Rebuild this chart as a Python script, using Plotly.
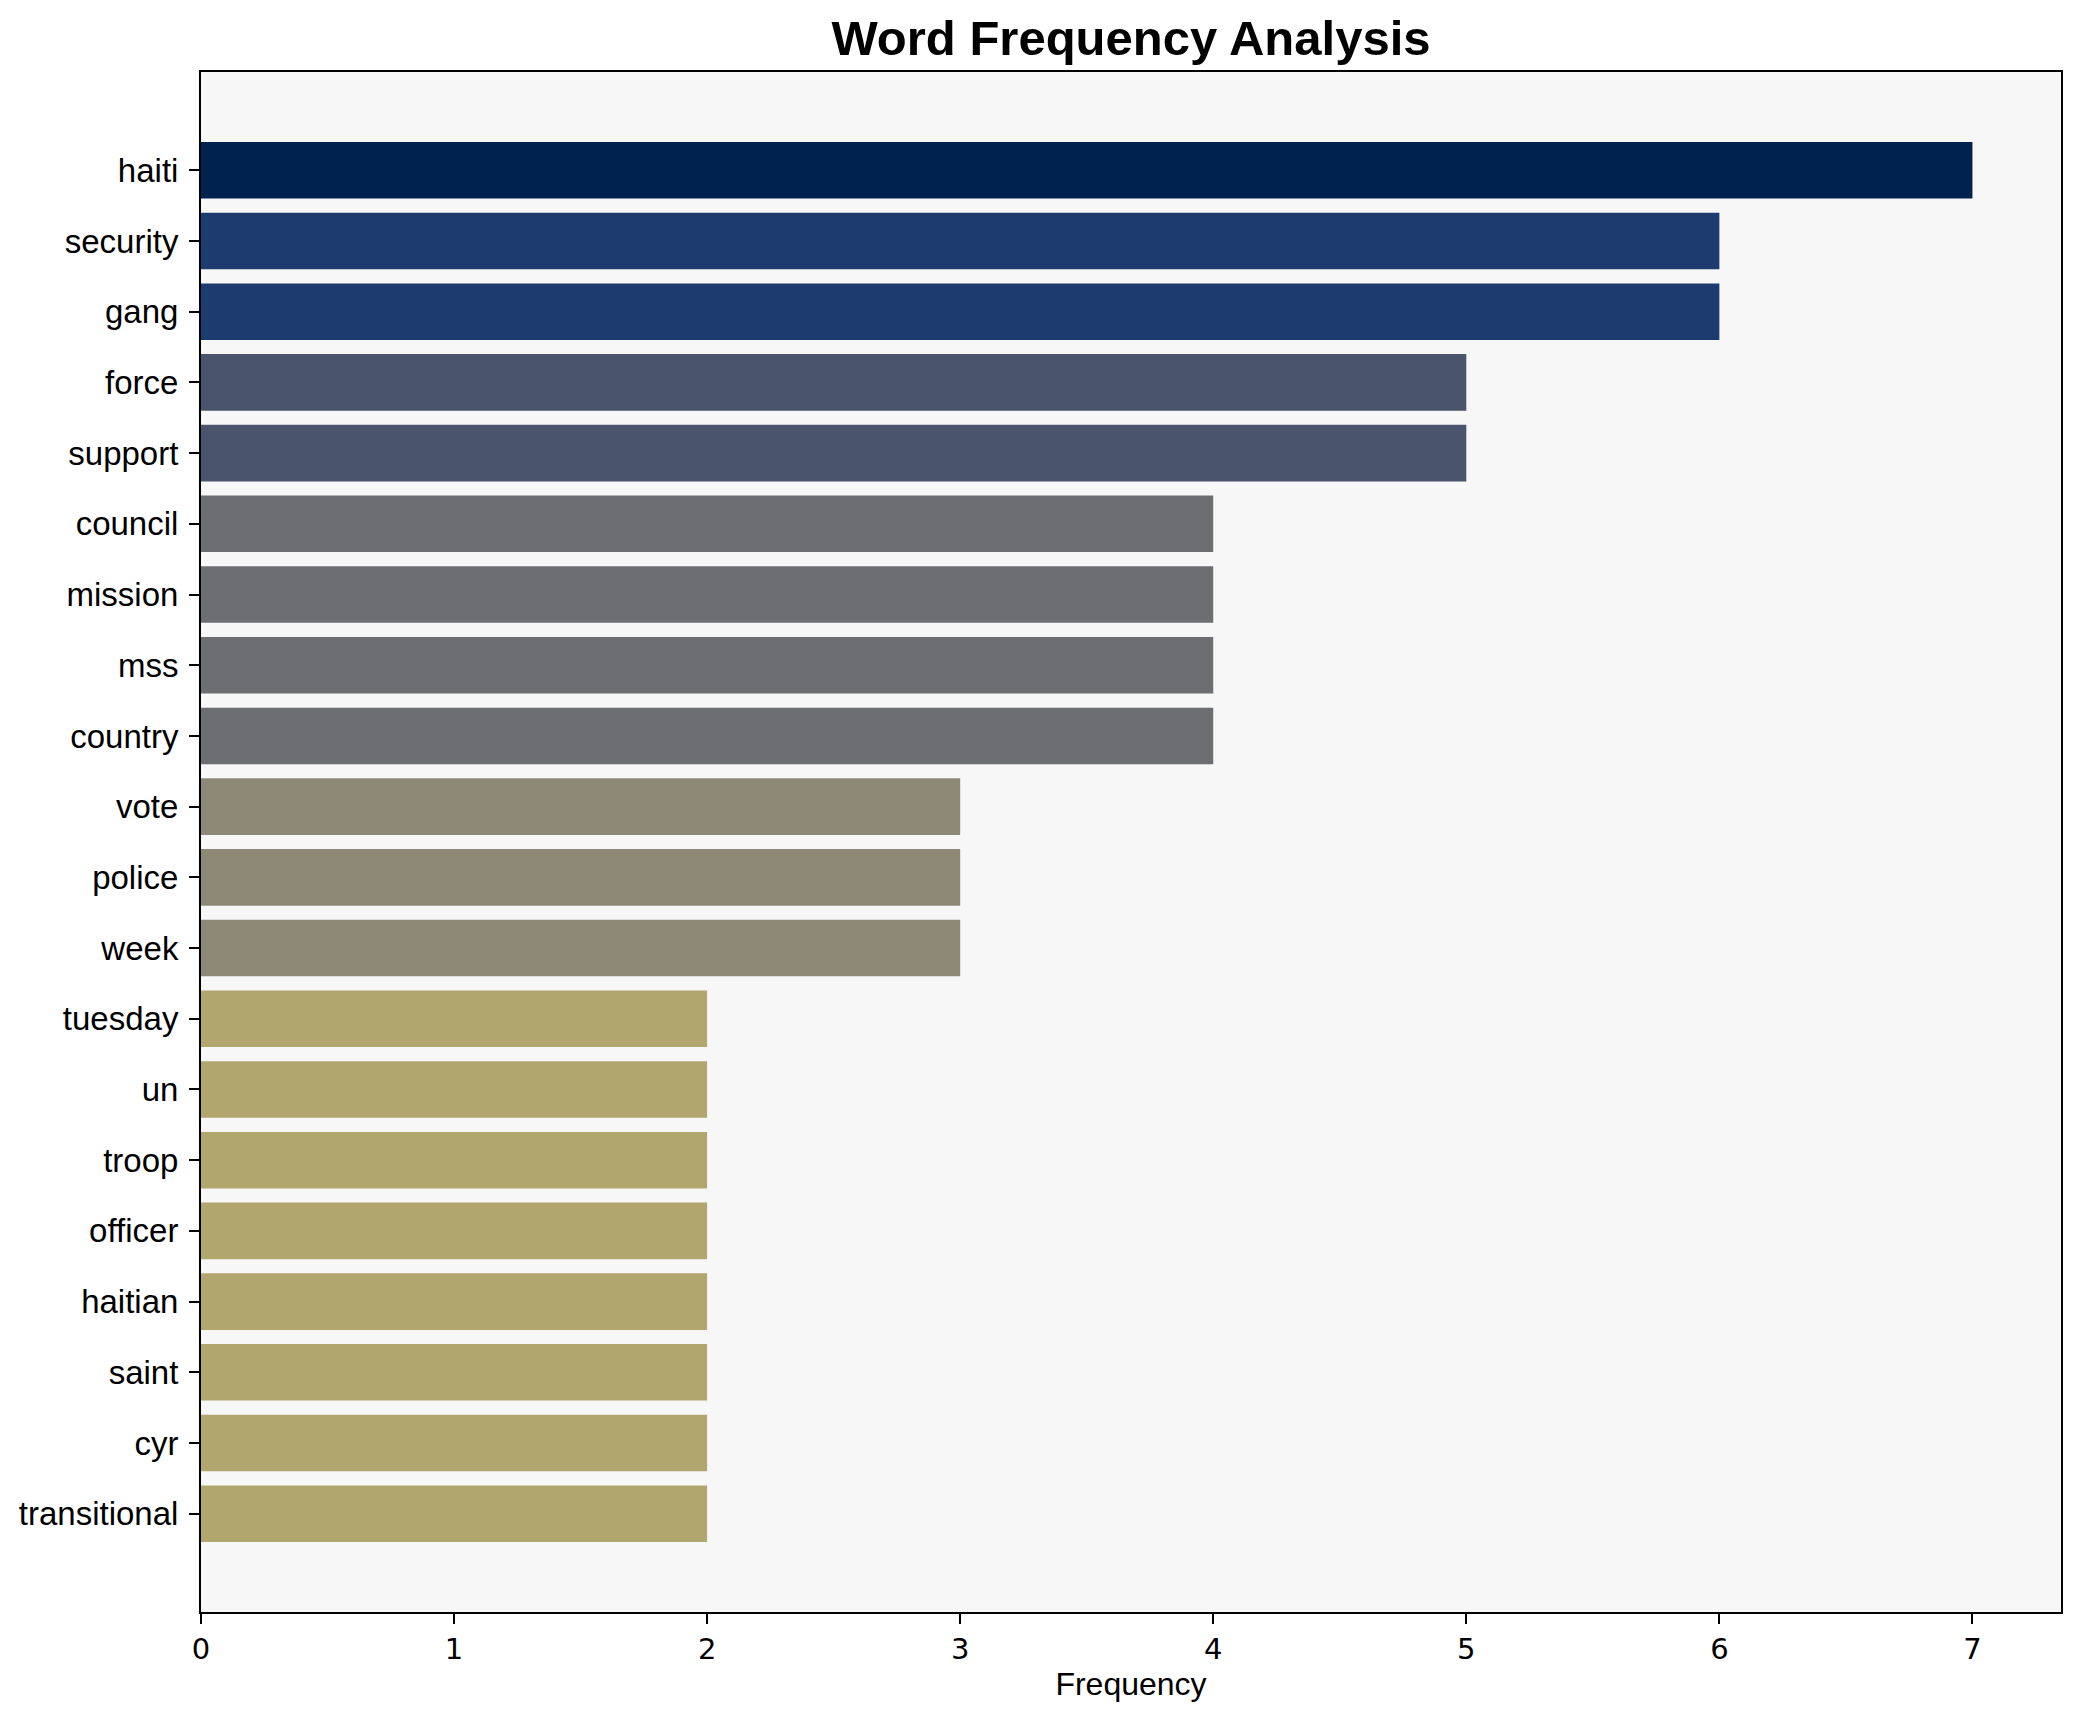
import plotly.graph_objects as go

words = ["haiti", "security", "gang", "force", "support", "council", "mission",
         "mss", "country", "vote", "police", "week", "tuesday", "un", "troop",
         "officer", "haitian", "saint", "cyr", "transitional"]
frequencies = [7, 6, 6, 5, 5, 4, 4, 4, 4, 3, 3, 3, 2, 2, 2, 2, 2, 2, 2, 2]
x_ticks = [0, 1, 2, 3, 4, 5, 6, 7]

fig = go.Figure(go.Bar(
    x=frequencies,
    y=words,
    orientation="h",
    width=0.8,
    marker=dict(color=frequencies, colorscale="Cividis", reversescale=True,
                cmin=0, cmax=max(frequencies), line=dict(width=0)),
    hoverinfo="x+y",
))

n = len(words)
# page body has an 8px margin; plot area target: x 201..2061, y 72..1612
fig.update_layout(
    width=2080, height=1722,
    margin=dict(l=193, r=27, t=64, b=118),
    paper_bgcolor="white",
    plot_bgcolor="#f7f7f7",
    showlegend=False,
    title=dict(text="<b>Word Frequency Analysis</b>", x=(193 + 2053) / 2 / 2080,
               xanchor="center", y=1 - 30 / 1722, yanchor="middle",
               font=dict(family="Liberation Sans, Arial", size=49, color="black")),
    font=dict(family="Liberation Sans, Arial", color="black"),
)
fig.update_xaxes(
    range=[0, 7.35], tickvals=x_ticks, ticks="outside", ticklen=10, tickwidth=2,
    tickcolor="black", showgrid=False, zeroline=False,
    showline=True, linecolor="black", linewidth=2, mirror=True,
    tickfont=dict(family="DejaVu Sans", size=29, color="black"),
    title=dict(text="Frequency", font=dict(family="Liberation Sans, Arial", size=32),
               standoff=8),
)
fig.update_yaxes(
    type="category", categoryorder="array", categoryarray=words,
    range=[n - 1 + 1.39, -1.39], ticks="outside", ticklen=10, tickwidth=2,
    tickcolor="black", showgrid=False, zeroline=False,
    showline=True, linecolor="black", linewidth=2, mirror=True,
    tickfont=dict(family="Liberation Sans, Arial", size=33, color="black"),
    ticklabelstandoff=4,
)

fig.write_html("out.html")
